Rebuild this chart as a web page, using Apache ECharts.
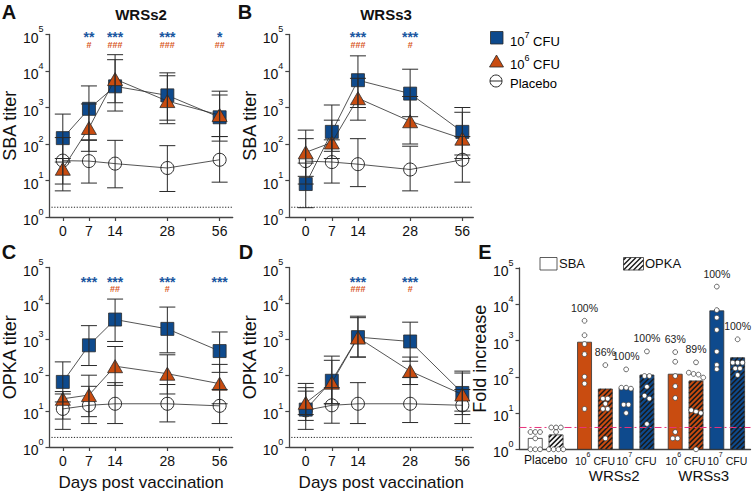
<!DOCTYPE html>
<html><head><meta charset="utf-8">
<script src="https://cdn.jsdelivr.net/npm/echarts@6.0.0/dist/echarts.min.js"></script>
<style>html,body{margin:0;padding:0;background:#fff;}#chart{width:752px;height:492px;}</style>
</head><body><div id="chart"></div>
<script>
// ================= DATA =================
const days = ['0', '7', '14', '28', '56'];

// Panel A — SBA titer, WRSs2
const A_cfu7   = [145, 920, 3800, 2150, 540];
const A_cfu7Lo = [32, 126, 800, 450, 120];
const A_cfu7Hi = [660, 3900, 20400, 8900, 2200];
const A_cfu6   = [21, 275, 6000, 1500, 620];
const A_cfu6Lo = [8, 63, 1350, 360, 160];
const A_cfu6Hi = [40, 1250, 28000, 7400, 2800];
const A_plac   = [35, 34, 29, 22, 37];
const A_placLo = [5.2, 8.5, 6.3, 5, 9];
const A_placHi = [150, 130, 126, 90, 160];
const A_stars  = ['', '**', '***', '***', '*'];
const A_hash   = ['', '#', '###', '###', '##'];

// Panel B — SBA titer, WRSs3
const B_cfu7   = [8, 215, 5600, 2400, 215];
const B_cfu7Lo = [1.8, 63, 1000, 560, 50];
const B_cfu7Hi = [30, 1170, 26000, 11200, 1000];
const B_cfu6   = [59, 110, 1800, 420, 140];
const B_cfu6Lo = [13, 40, 450, 100, 40];
const B_cfu6Hi = [240, 450, 6300, 2000, 740];
const B_plac   = [34, 32, 28, 20, 37];
const B_placLo = [8, 8.5, 6.8, 5.2, 9];
const B_placHi = [140, 130, 140, 87, 160];
const B_stars  = ['', '', '***', '***', ''];
const B_hash   = ['', '', '###', '#', ''];

// Panel C — OPKA titer, WRSs2
const C_cfu7   = [65, 680, 3550, 1950, 470];
const C_cfu7Lo = [18, 186, 870, 420, 120];
const C_cfu7Hi = [235, 2400, 13200, 7900, 1600];
const C_cfu6   = [22, 28, 178, 110, 58];
const C_cfu6Lo = [6, 7, 52, 30, 16];
const C_cfu6Hi = [35, 100, 630, 370, 200];
const C_plac   = [11.5, 14.5, 16, 16, 14];
const C_placLo = [3.1, 4.5, 4.5, 5, 4.5];
const C_placHi = [30, 49, 62, 55, 40];
const C_stars  = ['', '***', '***', '***', '***'];
const C_hash   = ['', '', '##', '#', ''];

// Panel D — OPKA titer, WRSs3
const D_cfu7   = [11, 70, 1150, 870, 32];
const D_cfu7Lo = [5.5, 16, 320, 245, 10];
const D_cfu7Hi = [45, 340, 4400, 3000, 130];
const D_cfu6   = [17, 62, 1120, 130, 29];
const D_cfu6Lo = [8, 16, 320, 55, 8];
const D_cfu6Hi = [59, 260, 4000, 320, 115];
const D_plac   = [10.5, 14.5, 16, 16, 14.5];
const D_placLo = [3.1, 4.6, 4.5, 4.8, 4.5];
const D_placHi = [36, 45, 62, 87, 40];
const D_stars  = ['', '', '***', '***', ''];
const D_hash   = ['', '', '###', '#', ''];

const lodTiter = 1.85;      // dotted limit line in A–D
const foldCutoff = 4;       // dashed responder line in E

// Panel E — fold increase (bars = mean, dots = individual animals)
const E_groups   = ['Placebo', '10^6 CFU', '10^7 CFU', '10^6 CFU', '10^7 CFU'];
const E_strains  = ['WRSs2', 'WRSs3'];
const E_sbaMean  = [2, 900, 48, 118, 6600];
const E_opkaMean = [2.5, 46, 112, 77, 335];
const E_sbaDots = [
  [3, 3, 3, 2, 1, 1, 1],
  [3500, 1400, 800, 420, 100, 65, 13],
  [160, 50, 50, 47, 17, 17, 10],
  [480, 260, 105, 55, 26, 3, 2, 2],
  [30700, 6900, 4270, 1960, 495, 212, 162]
];
const E_opkaDots = [
  [4, 4, 4, 3, 1, 1, 1, 1],
  [210, 25, 25, 18, 13, 13, 2],
  [500, 105, 105, 53, 30, 25, 5],
  [250, 130, 120, 115, 95, 12, 11, 10, 1],
  [1080, 245, 245, 245, 170, 170, 112]
];
const E_sbaPct  = ['', '100%', '100%', '63%', '100%'];
const E_opkaPct = ['', '86%', '100%', '89%', '100%'];

// ================= LAYOUT / STYLE =================
const FONT = '"Liberation Sans", Arial, Helvetica, sans-serif';
const BLUE = '#0e4a8d', ORANGE = '#c94c10', DARK = '#2a2a2a', AXIS = '#444';
const STAR_BLUE = '#1a56a0', HASH_ORANGE = '#d8561c';
const dayPos = [0, 1, 2, 4, 6];                 // slot of each day on the x axis
const barPos = [0, 1, 2.37, 3.37, 4.37, 5.37, 6.73, 7.73, 8.73, 9.73];
const groupLabelPos = [0.5, 2.87, 4.87, 7.23, 9.23];
const strainLabelPos = [3.8, 8.1];
const fillByGroup = ['#ffffff', ORANGE, BLUE, ORANGE, BLUE];

const panels = [
  {g: 0, yName: 'SBA titer', xName: '', xmin: -0.51, xmax: 6.5, starY: 97000, hashY: 54000,
   c7: A_cfu7, c7Lo: A_cfu7Lo, c7Hi: A_cfu7Hi, c6: A_cfu6, c6Lo: A_cfu6Lo, c6Hi: A_cfu6Hi, pl: A_plac, plLo: A_placLo, plHi: A_placHi, stars: A_stars, hash: A_hash},
  {g: 1, yName: 'SBA titer', xName: '', xmin: -0.63, xmax: 6.42, starY: 97000, hashY: 54000,
   c7: B_cfu7, c7Lo: B_cfu7Lo, c7Hi: B_cfu7Hi, c6: B_cfu6, c6Lo: B_cfu6Lo, c6Hi: B_cfu6Hi, pl: B_plac, plLo: B_placLo, plHi: B_placHi, stars: B_stars, hash: B_hash},
  {g: 2, yName: 'OPKA titer', xName: 'Days post vaccination', xmin: -0.51, xmax: 6.5, starY: 46000, hashY: 26000,
   c7: C_cfu7, c7Lo: C_cfu7Lo, c7Hi: C_cfu7Hi, c6: C_cfu6, c6Lo: C_cfu6Lo, c6Hi: C_cfu6Hi, pl: C_plac, plLo: C_placLo, plHi: C_placHi, stars: C_stars, hash: C_hash},
  {g: 3, yName: 'OPKA titer', xName: 'Days post vaccination', xmin: -0.63, xmax: 6.42, starY: 46000, hashY: 26000,
   c7: D_cfu7, c7Lo: D_cfu7Lo, c7Hi: D_cfu7Hi, c6: D_cfu6, c6Lo: D_cfu6Lo, c6Hi: D_cfu6Hi, pl: D_plac, plLo: D_placLo, plHi: D_placHi, stars: D_stars, hash: D_hash}
];

const grids = [
  {left: 49.3, top: 34.5, width: 183.4, height: 182.5},
  {left: 289.3, top: 34.5, width: 184, height: 182.5},
  {left: 49.3, top: 267.5, width: 183.4, height: 181},
  {left: 289.3, top: 267.5, width: 184, height: 181},
  {left: 519.5, top: 268, width: 231, height: 181.3}
];

// rich-text superscripts: "10^7" -> 10 with raised 7
const supRich = (base, lh, slh) => ({
  b: {fontSize: base, lineHeight: lh, verticalAlign: 'bottom', color: '#111', fontFamily: FONT},
  s: {fontSize: Math.round(base * 0.66), lineHeight: slh, verticalAlign: 'top', color: '#111', fontFamily: FONT},
  p: {fontSize: 12, lineHeight: lh, verticalAlign: 'bottom', color: '#111', fontFamily: FONT}
});
const supText = (t) => ('{b|' + t.replace(/10\^(\d)/g, '}{b|10}{s|$1}{b|') + '}').replace(/\{b\|\}/g, '');

function yAxisFor(gi, name, gap) {
  return {
    type: 'log', logBase: 10, min: 1, max: 100000, splitNumber: 5, gridIndex: gi,
    axisLine: {show: true, onZero: false, lineStyle: {color: AXIS, width: 1.3}},
    axisTick: {show: true, length: 4, lineStyle: {color: AXIS, width: 1.2}},
    minorTick: {show: false}, splitLine: {show: false},
    axisLabel: {margin: 6, formatter: v => '{b|10}{s|' + Math.round(Math.log10(v)) + '}', rich: supRich(14, 20, 10)},
    name: name, nameLocation: 'middle', nameGap: gap,
    nameTextStyle: {fontSize: 18, color: '#111', fontFamily: FONT}
  };
}

const xAxes = [], yAxes = [], series = [];

panels.forEach(p => {
  xAxes.push({
    type: 'value', gridIndex: p.g, min: p.xmin, max: p.xmax,
    axisLine: {show: true, onZero: false, lineStyle: {color: AXIS, width: 1.3}},
    axisTick: {show: true, length: 4, customValues: dayPos, lineStyle: {color: AXIS, width: 1.2}},
    splitLine: {show: false},
    axisLabel: {customValues: dayPos, margin: 7, fontSize: 14, color: '#111', fontFamily: FONT,
                formatter: v => days[dayPos.indexOf(v)]},
    name: p.xName, nameLocation: 'middle', nameGap: 27,
    nameTextStyle: {fontSize: 17, color: '#111', fontFamily: FONT}
  });
  yAxes.push(yAxisFor(p.g, p.yName, 29));

  const pts = arr => arr.map((v, i) => [dayPos[i], v]);
  const errs = (lo, hi) => lo.map((v, i) => [dayPos[i], v, hi[i]]);

  // limit-of-detection dotted line
  series.push({
    type: 'custom', xAxisIndex: p.g, yAxisIndex: p.g, silent: true, z: 1, data: [[0, lodTiter]],
    renderItem(params, api) {
      const cs = params.coordSys; const y = api.coord([0, api.value(1)])[1];
      return {type: 'line', shape: {x1: cs.x + 2, y1: y, x2: cs.x + cs.width, y2: y},
              style: {stroke: '#222', lineWidth: 1, lineDash: [1.2, 1.6]}};
    }
  });
  series.push({
    type: 'line', name: 'Placebo', xAxisIndex: p.g, yAxisIndex: p.g, z: 2, data: pts(p.pl),
    symbol: 'circle', symbolSize: 13, silent: true,
    itemStyle: {color: 'rgba(255,255,255,0)', borderColor: DARK, borderWidth: 1},
    lineStyle: {color: DARK, width: 0.8}
  });
  series.push({
    type: 'line', name: '10^7 CFU', xAxisIndex: p.g, yAxisIndex: p.g, z: 3, data: pts(p.c7),
    symbol: 'rect', symbolSize: 13, silent: true,
    itemStyle: {color: BLUE, borderColor: DARK, borderWidth: 0.8},
    lineStyle: {color: DARK, width: 0.8}
  });
  series.push({
    type: 'line', name: '10^6 CFU', xAxisIndex: p.g, yAxisIndex: p.g, z: 4, data: pts(p.c6),
    symbol: 'triangle', symbolSize: [15, 13], silent: true,
    itemStyle: {color: ORANGE, borderColor: DARK, borderWidth: 0.8},
    lineStyle: {color: DARK, width: 0.8}
  });
  // error bars
  series.push({
    type: 'custom', xAxisIndex: p.g, yAxisIndex: p.g, z: 5, silent: true,
    data: [...errs(p.c7Lo, p.c7Hi), ...errs(p.c6Lo, p.c6Hi), ...errs(p.plLo, p.plHi)],
    renderItem(params, api) {
      const x = api.value(0);
      const lo = api.coord([x, api.value(1)]), hi = api.coord([x, api.value(2)]);
      const c = 8, st = {stroke: DARK, lineWidth: 1};
      return {type: 'group', children: [
        {type: 'line', shape: {x1: lo[0], y1: lo[1], x2: hi[0], y2: hi[1]}, style: st},
        {type: 'line', shape: {x1: lo[0] - c, y1: lo[1], x2: lo[0] + c, y2: lo[1]}, style: st},
        {type: 'line', shape: {x1: hi[0] - c, y1: hi[1], x2: hi[0] + c, y2: hi[1]}, style: st}
      ]};
    }
  });
  // significance marks
  series.push({
    type: 'custom', xAxisIndex: p.g, yAxisIndex: p.g, z: 6, silent: true,
    data: dayPos.map((x, i) => [x, i]),
    renderItem(params, api) {
      const i = api.value(1), x = api.value(0);
      const s = api.coord([x, p.starY]), h = api.coord([x, p.hashY]);
      const ch = [];
      if (p.stars[i]) ch.push({type: 'text', x: s[0], y: s[1] + 2, style: {text: p.stars[i], fill: STAR_BLUE,
          font: 'bold 14px ' + FONT, align: 'center', verticalAlign: 'middle'}});
      if (p.hash[i]) ch.push({type: 'text', x: h[0], y: h[1] + 0.5, style: {text: p.hash[i], fill: HASH_ORANGE,
          font: 'bold 9px ' + FONT, align: 'center', verticalAlign: 'middle'}});
      return {type: 'group', children: ch};
    }
  });
});

// ---------- Panel E ----------
xAxes.push({
  type: 'value', gridIndex: 4, min: -0.757, max: 10.35,
  axisLine: {show: true, onZero: false, lineStyle: {color: AXIS, width: 1.3}},
  axisTick: {show: false}, splitLine: {show: false},
  axisLabel: {customValues: groupLabelPos, margin: 2, hideOverlap: false,
    formatter: v => { const t = E_groups[groupLabelPos.indexOf(v)]; return t.indexOf('^') < 0 ? '{p|' + t + '}' : supText(t); },
    rich: supRich(10.5, 15, 8)}
});
xAxes.push({
  type: 'value', gridIndex: 4, min: -0.757, max: 10.35, position: 'bottom',
  axisLine: {show: false}, axisTick: {show: false}, splitLine: {show: false},
  axisLabel: {customValues: strainLabelPos, margin: 19, fontSize: 15, color: '#111', fontFamily: FONT,
    formatter: v => E_strains[strainLabelPos.indexOf(v)]}
});
yAxes.push(yAxisFor(4, 'Fold increase', 21));

function hatch(x0, y0, x1, y1, step) {
  const segs = [];
  for (let k = x0 + y0 + step / 2; k < x1 + y1; k += step) {
    const xa = Math.max(x0, k - y1), xb = Math.min(x1, k - y0);
    if (xb > xa) segs.push([xa, k - xa, xb, k - xb]);
  }
  return segs;
}

const barData = [];
E_groups.forEach((g, gi) => {
  barData.push([barPos[2 * gi], E_sbaMean[gi], 0, gi]);
  barData.push([barPos[2 * gi + 1], E_opkaMean[gi], 1, gi]);
});
series.push({
  type: 'custom', xAxisIndex: 4, yAxisIndex: 4, z: 2, silent: true, data: barData,
  renderItem(params, api) {
    const x = api.value(0), v = api.value(1), hatched = api.value(2), gi = api.value(3);
    const top = api.coord([x, v]), base = api.coord([x, 1]);
    const w = 14, x0 = top[0] - w / 2, x1 = top[0] + w / 2, y0 = top[1], y1 = base[1];
    const ch = [{type: 'rect', shape: {x: x0, y: y0, width: w, height: y1 - y0}, style: {fill: fillByGroup[gi]}}];
    if (hatched) hatch(x0, y0, x1, y1, 5).forEach(s => ch.push({type: 'line',
      shape: {x1: s[0], y1: s[1], x2: s[2], y2: s[3]}, style: {stroke: '#1a1a1a', lineWidth: 1.5}}));
    ch.push({type: 'rect', shape: {x: x0, y: y0, width: w, height: y1 - y0}, style: {fill: 'none', stroke: '#333', lineWidth: 0.8}});
    return {type: 'group', children: ch};
  }
});

// cutoff line
series.push({
  type: 'custom', xAxisIndex: 4, yAxisIndex: 4, z: 3, silent: true, data: [[0, foldCutoff]],
  renderItem(params, api) {
    const cs = params.coordSys; const y = api.coord([0, api.value(1)])[1];
    return {type: 'line', shape: {x1: cs.x, y1: y, x2: cs.x + cs.width, y2: y},
            style: {stroke: '#e8337c', lineWidth: 1, lineDash: [7, 3, 2, 3]}};
  }
});

// individual dots with deterministic side-by-side spreading of near-equal values
const dotData = [];
function addDots(pos, vals) {
  const sorted = vals.slice().sort((a, b) => b - a);
  const groups = [];
  sorted.forEach(v => {
    const last = groups[groups.length - 1];
    if (last && Math.abs(Math.log10(last[last.length - 1]) - Math.log10(v)) < 0.1) last.push(v);
    else groups.push([v]);
  });
  groups.forEach(gr => gr.forEach((v, i) => dotData.push([pos, v, (i - (gr.length - 1) / 2) * 4.8])));
}
E_groups.forEach((g, gi) => {
  addDots(barPos[2 * gi], E_sbaDots[gi]);
  addDots(barPos[2 * gi + 1], E_opkaDots[gi]);
});
series.push({
  type: 'custom', xAxisIndex: 4, yAxisIndex: 4, z: 4, silent: true, data: dotData,
  renderItem(params, api) {
    const c = api.coord([api.value(0), api.value(1)]);
    return {type: 'circle', shape: {cx: c[0] + api.value(2), cy: c[1], r: 2.4},
            style: {fill: '#fff', stroke: '#444', lineWidth: 0.8}};
  }
});

// percentage labels above the highest dot
const pctData = [];
E_groups.forEach((g, gi) => {
  if (E_sbaPct[gi]) pctData.push([barPos[2 * gi], Math.max(...E_sbaDots[gi]), gi, 0]);
  if (E_opkaPct[gi]) pctData.push([barPos[2 * gi + 1], Math.max(...E_opkaDots[gi]), gi, 1]);
});
series.push({
  type: 'custom', xAxisIndex: 4, yAxisIndex: 4, z: 5, silent: true, data: pctData,
  renderItem(params, api) {
    const c = api.coord([api.value(0), api.value(1)]);
    const gi = api.value(2), kind = api.value(3);
    return {type: 'text', x: c[0], y: c[1] - 13, style: {text: kind ? E_opkaPct[gi] : E_sbaPct[gi],
      fill: '#222', font: '10.5px ' + FONT, align: 'center', verticalAlign: 'middle'}};
  }
});

// ---------- titles, panel letters, legends ----------
const txt = (x, y, text, font, align) => ({type: 'text', x, y, silent: true,
  style: {text, font, fill: '#111', align: align || 'center', verticalAlign: 'middle'}});
const rtxt = (x, y, text) => ({type: 'text', x, y, silent: true,
  style: {text: supText(text), align: 'left', verticalAlign: 'middle', rich: supRich(13, 18, 9)}});

const legendHatch = hatch(623.5, 257.5, 643.5, 270, 5).map(s => ({type: 'line', silent: true,
  shape: {x1: s[0], y1: s[1], x2: s[2], y2: s[3]}, style: {stroke: '#1a1a1a', lineWidth: 1.5}}));

const graphics = [
  txt(9, 12, 'A', 'bold 20px ' + FONT), txt(245, 12, 'B', 'bold 20px ' + FONT),
  txt(9, 252, 'C', 'bold 20px ' + FONT), txt(246, 252, 'D', 'bold 20px ' + FONT),
  txt(485, 252, 'E', 'bold 20px ' + FONT),
  txt(141, 14, 'WRSs2', 'bold 15px ' + FONT), txt(386, 14, 'WRSs3', 'bold 15px ' + FONT),
  // legend (A–D)
  {type: 'rect', silent: true, shape: {x: 490.5, y: 31.5, width: 12.5, height: 12.5}, style: {fill: BLUE, stroke: DARK, lineWidth: 0.8}},
  rtxt(510, 39, '10^7 CFU'),
  {type: 'polygon', silent: true, shape: {points: [[496.5, 55], [489.5, 67], [503.5, 67]]}, style: {fill: ORANGE, stroke: DARK, lineWidth: 0.8}},
  rtxt(510, 62, '10^6 CFU'),
  {type: 'circle', silent: true, shape: {cx: 496, cy: 81, r: 6}, style: {fill: 'none', stroke: DARK, lineWidth: 1}},
  {type: 'line', silent: true, shape: {x1: 490, y1: 81, x2: 502, y2: 81}, style: {stroke: DARK, lineWidth: 1}},
  rtxt(510, 81, 'Placebo'),
  // legend (E)
  {type: 'rect', silent: true, shape: {x: 540, y: 257.5, width: 17, height: 12.5}, style: {fill: '#fff', stroke: '#333', lineWidth: 0.8}},
  txt(559, 263.5, 'SBA', '13px ' + FONT, 'left'),
  ...legendHatch,
  {type: 'rect', silent: true, shape: {x: 623.5, y: 257.5, width: 20, height: 12.5}, style: {fill: 'none', stroke: '#333', lineWidth: 0.8}},
  txt(645, 263.5, 'OPKA', '13px ' + FONT, 'left')
];

const chart = echarts.init(document.getElementById('chart'), null, {renderer: 'svg', width: 752, height: 492});
chart.setOption({
  animation: false,
  backgroundColor: '#fff',
  textStyle: {fontFamily: FONT},
  grid: grids,
  xAxis: xAxes,
  yAxis: yAxes,
  series: series,
  graphic: {elements: graphics}
});
</script>
</body></html>
